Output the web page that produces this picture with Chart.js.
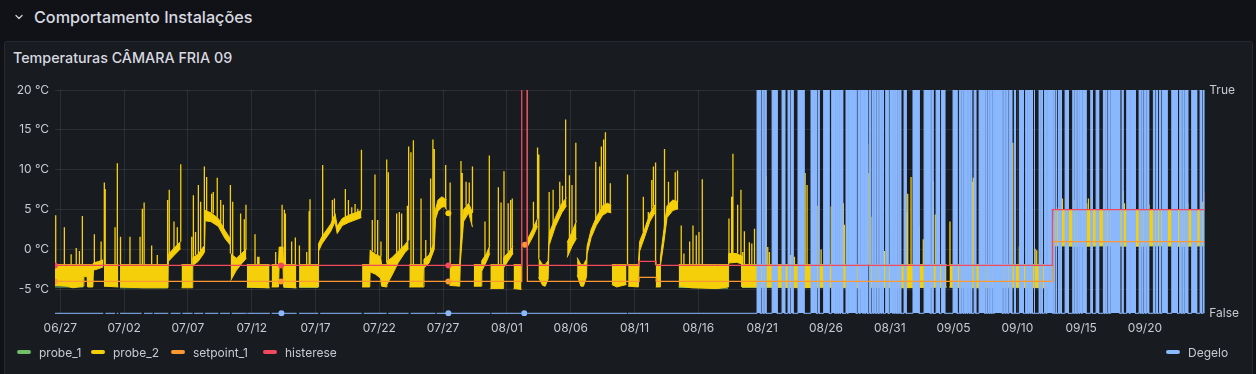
<!DOCTYPE html>
<html>
<head>
<meta charset="utf-8">
<script src="https://cdn.jsdelivr.net/npm/chart.js@4.4.1/dist/chart.umd.min.js"></script>
<style>
  html, body { margin: 0; padding: 0; }
  body { width: 1256px; height: 374px; overflow: hidden; background: #111217; font-family: Inter, "Noto Sans", sans-serif; position: relative; }
  .abs { position: absolute; }
  #rowTitle { left: 34px; top: 9px; font-size: 16.2px; line-height: 16px; font-weight: 500; color: #d8d9e0; white-space: nowrap; }
  #panel { left: 4px; top: 41px; width: 1247px; height: 345px; background: #181b1f; border: 1px solid #26292f; border-radius: 3px; }
  #panelTitle { left: 13px; top: 51px; font-size: 14.3px; line-height: 14px; font-weight: 500; color: #d8d9e0; white-space: nowrap; }
  #chart { left: 0; top: 0; z-index: 2; }
  .leg { position: absolute; top: 345px; height: 14px; display: flex; align-items: center; font-size: 12px; color: #c9cad2; white-space: nowrap; z-index: 3; }
  .sw { width: 14px; height: 4px; border-radius: 2px; margin-right: 8px; }
</style>
</head>
<body>
<svg class="abs" style="left:14px;top:13px" width="10" height="8" viewBox="0 0 10 8"><polyline points="2,2.5 5,5.5 8,2.5" fill="none" stroke="#c9cad2" stroke-width="1.4" stroke-linecap="round" stroke-linejoin="round"/></svg>
<div id="rowTitle" class="abs">Comportamento Instalações</div>
<div id="panel" class="abs"></div>
<div id="panelTitle" class="abs">Temperaturas CÂMARA FRIA 09</div>
<canvas id="chart" class="abs" width="1256" height="374"></canvas>
<div id="legend"></div>
<script>
// ---------- DATA (days since 06/27 00:00) ----------
const xTickLabels = ['06/27','07/02','07/07','07/12','07/17','07/22','07/27','08/01','08/06','08/11','08/16','08/21','08/26','08/31','09/05','09/10','09/15','09/20'];
const yTickValues = [-5, 0, 5, 10, 15, 20];

// probe_2 envelope (upper / lower edge of the fast compressor cycling)
const probe2Days = [-0.42,0.5,1.0,1.8,1.85,2.1,2.15,2.55,2.6,3.0,3.35,3.38,3.42,4.55,4.6,4.68,6.5,8.44,8.46,8.7,9.0,9.43,9.46,9.5,10.35,10.38,10.8,11.2,11.3,11.34,11.8,12.38,12.9,13.3,13.33,13.35,13.8,14.2,14.58,14.6,14.62,16.4,16.43,16.56,17.1,17.15,17.45,17.5,18.5,18.52,18.71,20.2,20.24,20.5,21.2,21.53,21.7,22.1,22.6,23.1,23.6,23.63,23.65,24.25,24.28,24.7,25.1,25.18,25.56,25.6,26.0,26.5,27.0,27.3,27.32,27.35,28.45,28.5,28.9,29.3,29.4,29.6,29.9,30.1,30.28,30.32,30.41,30.45,30.5,31.3,31.35,31.6,32.0,32.3,32.35,32.4,33.0,33.03,33.4,33.66,33.68,33.7,34.7,34.74,35.1,35.48,35.5,35.52,36.14,36.16,36.62,37.0,37.4,37.44,37.47,37.8,38.0,38.23,38.3,38.8,39.3,39.67,39.7,39.72,40.1,40.45,40.47,40.5,40.8,41.0,41.24,41.28,41.6,42.0,42.5,42.9,43.18,43.2,43.22,43.6,44.37,44.42,44.5,45.3,45.4,45.8,46.2,46.6,46.63,46.66,47.0,47.03,47.3,47.55,48.0,48.42,48.44,48.46,49.5,51.5,52.33,52.37,53.0,53.38,53.42,56.0,58.0,60.0,63.3,63.33,63.42,66.0,69.45,69.48,69.68,72.0,74.0,77.73,77.78,77.95,80.0,82.0,84.0,86.0,88.0,89.65];
const probe2High = [-1.9,-1.9,-1.9,-1.9,-1.9,-1.9,-1.9,-1.9,-1.7,-1.5,-1.3,null,-1.9,-1.9,null,-1.9,-1.9,-1.9,-0.6,-0.2,0.3,1.0,null,-1.9,-1.9,-1.0,-0.6,0.3,0.5,4.9,4.6,3.9,2.4,1.4,null,-0.5,-1.1,-0.5,0.1,null,-1.9,-1.9,null,-1.9,-1.9,0.3,0.3,-1.9,-1.9,null,-1.9,-1.9,0.75,1.6,3.2,4.5,2.9,3.9,4.3,4.6,4.9,null,-1.9,-1.9,-0.1,-0.6,-0.9,-1.9,-1.9,-1.5,-1.0,-0.2,0.6,1.2,null,-1.9,-1.9,-1.2,-0.7,0.9,5.0,6.2,6.6,6.4,6.3,null,4.55,null,-1.9,-1.9,0.5,5.0,5.8,4.6,null,-1.9,-1.9,-1.4,-0.5,0.5,null,-1.9,-1.9,-1.0,-0.4,0.4,null,-1.9,-1.9,null,1.3,2.5,3.9,null,-1.1,-1.9,-1.9,-1.4,2.0,4.0,5.8,6.5,null,0.9,2.2,3.6,null,-1.0,-1.9,-1.9,-1.2,0.4,2.5,4.0,5.5,5.8,5.5,null,-1.9,-1.9,-1.9,null,-1.9,-1.9,1.0,2.6,4.5,5.6,null,-1.9,-1.9,-1.0,2.5,5.5,6.2,6.0,null,-1.9,-1.9,-1.9,-1.9,-0.5,-0.5,-0.8,-1.9,-1.9,-1.9,-1.9,-1.9,null,-1.9,-1.9,-1.9,null,-1.9,-1.9,-1.9,-1.9,2.4,5.0,5.0,5.0,5.0,5.0,5.0,5.0];
const probe2Low = [-4.5,-4.6,-4.8,-4.6,-3.4,-3.4,-4.7,-4.7,-2.6,-2.4,-2.2,null,-4.6,-4.7,null,-4.7,-4.8,-4.8,-1.5,-1.1,-0.6,0.1,null,-4.8,-4.8,-2.0,-1.5,-0.6,-0.3,3.6,3.5,2.9,1.4,0.6,null,-3.9,-2.6,-1.8,-1.1,null,-4.7,-4.8,null,-4.7,-4.7,-2.0,-2.0,-4.7,-4.8,null,-4.7,-4.7,-0.2,0.7,2.3,3.5,2.0,3.0,3.4,3.7,4.0,null,-4.7,-4.7,-2.8,-3.1,-3.6,-4.6,-4.7,-4.4,-3.2,-1.6,-0.4,0.1,null,-4.7,-4.7,-2.3,-1.7,0.0,3.8,4.8,5.3,5.4,5.0,null,null,null,-4.5,-4.6,-1.6,3.5,4.6,2.8,null,-4.6,-4.6,-2.7,-1.5,-0.5,null,-4.9,-4.9,-2.3,-1.4,-0.5,null,-4.9,-5.0,null,0.4,1.5,2.9,null,-3.5,-4.5,-4.6,-3.7,0.5,2.9,4.6,5.5,null,-1.0,0.4,1.4,null,-3.2,-4.6,-4.6,-3.4,-0.6,1.5,3.0,4.3,4.7,4.6,null,-4.4,-4.7,-4.4,null,-4.6,-4.7,-0.2,1.6,3.5,4.6,null,-4.7,-4.7,-2.0,0.9,4.0,4.9,5.1,null,-4.6,-4.8,-4.9,-4.7,-1.7,-1.6,-1.8,-4.7,-4.7,-4.8,-4.7,-4.8,null,-4.7,-4.8,-4.7,null,-4.7,-4.8,-4.7,-4.8,0.6,0.5,0.4,0.5,0.4,0.5,0.4,0.5];

// probe_2 short peaks: day, level it leaves from, peak value
const probe2SpikeDays = [-0.36,0.32,0.85,1.25,1.5,1.73,2.67,3.2,3.45,3.52,4.29,4.47,4.72,5.46,6.25,6.43,6.57,7.16,7.6,8.41,8.54,8.91,9.17,9.44,10.3,10.43,10.6,10.82,11.0,11.29,11.47,11.86,11.99,12.3,12.57,12.78,13.33,13.51,14.13,14.42,14.55,15.26,15.47,15.57,16.88,17.38,17.56,17.64,18.13,18.42,18.74,19.31,19.5,19.57,20.56,21.32,21.48,22.34,22.58,22.84,23.1,23.31,23.6,24.45,24.66,24.87,25.13,25.58,25.71,26.36,26.57,26.75,27.2,27.3,27.48,27.67,28.27,28.64,29.02,29.2,29.31,30.2,30.55,31.4,31.5,31.8,32.05,32.3,33.28,33.62,34.33,34.54,34.77,35.1,35.29,35.42,37.08,37.4,37.5,38.31,38.62,39.14,39.35,39.6,39.9,40.1,40.4,41.96,42.27,42.4,42.58,42.72,43.1,44.45,45.69,46.08,46.35,46.48,46.65,47.35,47.66,48.19,48.37,48.66,48.87,49.32,49.58,49.84,50.05,50.31,52.4,52.61,52.71,53.08,53.34,53.48,53.61,54.0,54.19,54.4,55.31,55.44,55.57,57.22,57.53,58.37,58.52,59.31,59.62,60.23,60.41,61.36,61.44,62.62,63.27,63.38,63.53,64.58,65.41,66.33,66.41,66.67,67.32,67.63,68.42,68.57,68.73,69.72,71.47,71.55,74.64,75.16,75.47,76.39,76.52,76.83,78.21,78.53,79.44,80.43,80.57,81.35,83.31,83.39,85.32,88.35,89.53,89.62];
const probe2SpikeBase = [-1.9,-1.9,-1.9,-1.9,-1.9,-1.9,-1.7,-1.4,-1.9,-1.9,-1.9,-1.9,-1.9,-1.9,-1.9,-1.9,-1.9,-1.9,-1.9,-1.9,-0.5,0,0.5,1.0,-1.9,-1.0,-0.7,-0.6,-0.2,0.5,4.8,4.6,4.5,4.0,3.4,2.7,-0.5,-0.7,-0.6,-0.1,0,-1.9,-1.9,-1.9,-1.9,0.3,-1.9,-1.9,-1.9,-1.9,-1.9,-1.9,-1.9,-1.9,1.4,3.5,4.4,3.8,4.3,4.4,4.6,4.7,4.9,-0.2,-0.4,-0.7,-0.9,-1.6,-1.4,-0.4,-0.1,0.2,1.0,1.2,-1.9,-1.9,-1.9,-1.0,-0.6,0.5,0.9,6.4,-1.9,0.5,2.0,5.5,5.8,4.6,-0.9,0.4,-1.9,-1.9,-1.0,-0.4,0,0.3,2.0,3.9,-1.1,2.0,3.2,5.3,5.9,6.4,1.5,2.2,3.5,3.8,4.8,5.2,5.5,5.6,5.5,-1.9,2.2,3.9,5.0,5.4,-1.9,2.8,5.7,6.1,6.0,-1.9,-1.9,-1.9,-1.9,-1.9,-1.9,-1.9,-0.5,-0.5,-0.5,-0.5,-0.8,-1.9,-1.9,-1.9,-1.9,-1.9,-1.9,-1.9,-1.9,-1.9,-1.9,-1.9,-1.9,-1.9,-1.9,-1.9,-1.9,-1.9,-1.9,-1.9,-1.9,-1.9,-1.9,-1.9,-1.9,-1.9,-1.9,-1.9,-1.9,-1.9,-1.9,-1.9,-1.9,-1.9,-1.9,-1.9,-1.9,-1.9,-1.9,-1.9,-1.9,-1.9,5.0,5.0,5.0,5.0,5.0,5.0,5.0,5.0,5.0,5.0,5.0,5.0];
const probe2SpikePeak = [4.3,2.8,-0.6,0.2,-0.2,4.2,1.9,1.0,8.4,7.6,2.8,10.8,1.6,1.6,1.6,5.1,5.9,0.5,-0.7,6.2,7.5,3.5,2.8,10.7,1.6,6.8,2.2,8.1,6.0,10.4,9.1,7.0,7.2,9.0,6.2,5.6,8.1,6.0,4.5,3.8,5.6,1.9,-0.9,-0.9,-0.3,5.6,5.0,4.5,1.0,1.5,0.5,-0.3,4.8,6.3,10.6,6.2,6.4,7.6,6.2,5.3,5.7,5.1,12.5,3.7,9.4,3.7,1.0,11.3,9.7,4.5,4.7,4.5,5.5,12.9,12.2,13.7,6.4,1.2,8.9,13.8,12.6,10.6,8.4,11.1,9.6,8.5,8.4,10.4,3.5,11.8,7.8,5.9,9.8,5.8,6.2,6.4,6.0,12.8,11.9,7.2,7.5,8.5,8.0,16.3,9.3,8.1,13.4,11.0,10.4,12.9,13.8,14.7,8.3,9.4,6.6,4.7,8.7,10.4,10.9,12.6,8.5,9.7,9.9,3.0,-0.5,1.0,3.0,1.8,2.2,8.8,3.9,6.6,12.0,5.6,7.5,-0.3,2.3,0.9,0.75,2.6,9.2,0.3,-0.3,-0.7,-0.9,9.6,8.1,5.5,0,0.3,5.4,5.8,3.1,6.5,13.2,9.6,4.1,-0.2,2.5,4.7,7.0,9.1,3.0,1.3,8.6,4.4,0.5,3.5,8.5,9.0,13.4,0.4,8.3,0.1,-0.1,-1.3,5.3,6.4,6.2,5.8,6.4,6.0,7.4,5.8,5.6,5.8,6.0,7.3];

// probe_1 (mostly hidden under probe_2, bottom fringe)
const probe1Days = [-0.42,1.8,1.82,4.68,8.4,8.42,14.62,16.4,16.42,17.5,18.5,18.52,18.71,20.2,20.22,48.46,52.33,52.35,53.42,63.3,63.32,63.42,69.45,69.47,69.68,77.73,77.75,77.95,89.65];
const probe1Values = [-4.7,-4.7,null,-4.8,-4.8,null,-4.75,-4.8,null,-4.75,-4.8,null,-4.75,-4.75,null,-4.75,-4.85,null,-4.75,-4.8,null,-4.75,-4.75,null,-4.75,-4.8,null,0.45,0.45];

// setpoint_1 and histerese
const setpointDays = [-0.42,-0.39,-0.36,17.26,17.28,17.3,17.32,17.34,30.36,30.38,30.41,30.44,30.46,36.16,36.16,36.38,36.39,36.41,36.43,36.6,36.6,45.35,45.35,46.7,46.7,77.75,77.75,89.65];
const setpointValues = [-4,null,-4,-4,null,-4,null,-4,-4,null,-4,null,-4,-4,0.6,0.6,null,0.6,null,40,-4,-4,-3.5,-3.5,-4,-4,1,1];
const histereseDays = [-0.42,-0.39,-0.36,17.26,17.28,17.3,17.32,17.34,30.36,30.38,30.41,30.44,30.46,36.16,36.16,36.2,36.6,36.6,45.35,45.35,46.7,46.7,77.75,77.75,89.65];
const histereseValues = [-2,null,-2,-2,null,-2,null,-2,-2,null,-2,null,-2,-2,40,null,40,-2,-2,-1.5,-1.5,-2,-2,5,5];

// Degelo (defrost, False/True)
const degeloOffStart = [-0.42,3.53,4.42,4.68,6.56,7.34,8.65,9.56,10.48,11.34,12.52,13.43,14.65,16.56,17.4,18.71,20.37,23.78,25.7,27.45,29.5,30.5,33.78,36.6,44.48];
const degeloOffEnd   = [3.37,4.29,4.55,6.38,7.24,8.47,9.43,10.37,11.21,12.39,13.3,14.6,16.43,17.25,18.52,20.22,23.62,25.58,27.3,29.4,30.3,33.7,36.16,44.42,54.6];
const degeloDots = [17.33, 30.41, 36.36];
const degeloOnStart = [54.60,54.99,55.20,55.78,56.56,57.03,57.26,57.81,58.83,59.38,59.82,60.45,60.76,60.89,61.05,61.18,61.57,61.76,62.51,62.72,62.88,63.01,63.14,63.38,63.61,63.79,64.00,64.21,64.40,64.68,65.02,65.28,65.44,65.62,65.78,66.12,66.82,67.69,68.29,68.63,69.05,69.96,70.46,70.64,70.85,70.98,71.14,71.34,71.61,72.00,72.52,72.70,72.89,73.07,73.20,73.93,74.14,74.35,74.77,75.16,75.65,75.81,75.94,76.10,76.31,76.70,76.88,77.12,77.33,77.85,78.03,78.21,78.37,78.74,79.34,79.52,79.73,79.91,80.12,80.75,81.17,81.74,81.92,82.13,82.32,83.20,83.57,83.86,84.54,84.75,84.93,85.14,85.66,85.89,86.13,86.34,87.10,87.72,87.96,88.14,88.66,89.32,89.55];
const degeloOnEnd   = [54.86,55.07,55.30,56.17,56.77,57.13,57.42,58.28,59.25,59.46,60.24,60.69,60.84,60.97,61.13,61.31,61.68,62.36,62.62,62.83,62.96,63.09,63.25,63.48,63.69,63.90,64.08,64.32,64.50,64.87,65.23,65.36,65.52,65.70,65.86,66.28,67.30,68.16,68.39,68.89,69.31,70.27,70.53,70.74,70.93,71.06,71.24,71.42,71.74,72.42,72.60,72.78,72.96,73.15,73.80,74.03,74.24,74.56,74.84,75.47,75.71,75.86,76.02,76.18,76.36,76.78,76.96,77.25,77.77,77.93,78.08,78.27,78.45,79.00,79.42,79.60,79.83,80.02,80.38,80.88,81.37,81.82,82.00,82.21,83.02,83.28,83.78,84.25,84.64,84.82,85.03,85.29,85.76,85.97,86.21,86.73,87.54,87.83,88.04,88.35,89.05,89.42,89.65];
const timeEnd = 89.65;

// ---------- BUILD ----------
const X_MIN = -0.415, X_MAX = 89.65;
const pts = (xs, ys) => xs.map((x, i) => ({ x: x, y: ys[i] }));

const spikeData = [];
probe2SpikeDays.forEach((d, i) => {
  spikeData.push({ x: d, y: probe2SpikeBase[i] }, { x: d, y: probe2SpikePeak[i] }, { x: d, y: null });
});

const degeloData = [];
degeloOffStart.forEach((s, i) => {
  const e = degeloOffEnd[i];
  degeloData.push({ x: s, y: 0 }, { x: e, y: 0 });
  if (i < degeloOffStart.length - 1) {
    degeloData.push({ x: e, y: null });
    degeloDots.filter(d => d > e && d < degeloOffStart[i + 1]).forEach(d => {
      degeloData.push({ x: d, y: 0 }, { x: d, y: null });
    });
  }
});
degeloOnStart.forEach((s, i) => {
  const e = degeloOnEnd[i];
  degeloData.push({ x: s, y: 0 }, { x: s, y: 1 }, { x: e, y: 1 }, { x: e, y: 0 });
});
degeloData.push({ x: timeEnd, y: 0 });

function isolatedRadius(ctx) {
  const data = ctx.dataset.data, i = ctx.dataIndex, p = data[i];
  if (!p || p.y === null) return 0;
  const prev = data[i - 1], next = data[i + 1];
  const lonely = (!prev || prev.y === null) && (!next || next.y === null);
  return lonely ? 3 : 0;
}

const YELLOW = '#F5CF0A', GREEN = '#73BF69', ORANGE = '#FF9830', RED = '#F2495C', BLUE = '#8AB8FF';
const TICK = '#c9cad2';
const GRID = 'rgba(204,204,220,0.11)';

const common = { pointRadius: isolatedRadius, pointHoverRadius: 0, pointBorderWidth: 0, spanGaps: false, tension: 0 };

new Chart(document.getElementById('chart'), {
  type: 'line',
  data: {
    datasets: [
      Object.assign({ label: 'probe_1', data: pts(probe1Days, probe1Values), borderColor: GREEN, backgroundColor: GREEN, borderWidth: 1, fill: false, order: 6 }, common),
      Object.assign({ label: 'probe_2 low', data: pts(probe2Days, probe2Low), borderColor: YELLOW, backgroundColor: YELLOW, borderWidth: 1, fill: false, order: 5 }, common),
      Object.assign({ label: 'probe_2', data: pts(probe2Days, probe2High), borderColor: YELLOW, backgroundColor: YELLOW, pointBackgroundColor: YELLOW, borderWidth: 1, fill: { target: 1, above: YELLOW, below: YELLOW }, order: 4 }, common),
      Object.assign({ label: 'probe_2 peaks', data: spikeData, borderColor: YELLOW, borderWidth: 1.3, fill: false, order: 4 }, common, { pointRadius: 0 }),
      Object.assign({ label: 'setpoint_1', data: pts(setpointDays, setpointValues), borderColor: ORANGE, backgroundColor: ORANGE, pointBackgroundColor: ORANGE, borderWidth: 1.3, fill: false, order: 1 }, common),
      Object.assign({ label: 'histerese', data: pts(histereseDays, histereseValues), borderColor: RED, backgroundColor: RED, pointBackgroundColor: RED, borderWidth: 1.3, fill: false, order: 0 }, common),
      Object.assign({ label: 'Degelo', data: degeloData, yAxisID: 'y2', borderColor: BLUE, backgroundColor: BLUE, pointBackgroundColor: BLUE, borderWidth: 1, fill: 'origin', order: 2, clip: { left: 0, right: 0, top: 0, bottom: 3 } }, common)
    ]
  },
  options: {
    responsive: false,
    animation: false,
    devicePixelRatio: 1,
    parsing: true,
    normalized: true,
    layout: { padding: { top: 90, left: 0, right: 0, bottom: 0 } },
    plugins: { legend: { display: false }, tooltip: { enabled: false } },
    scales: {
      x: {
        type: 'linear', min: X_MIN, max: X_MAX,
        afterFit: s => { s.height = 374 - 313.3; },
        afterBuildTicks: s => { s.ticks = xTickLabels.map((_, i) => ({ value: i * 5 })); },
        ticks: { callback: (v) => xTickLabels[Math.round(v / 5)], color: TICK, font: { family: 'Inter', size: 12 }, padding: 8, maxRotation: 0, autoSkip: false },
        grid: { color: GRID, drawTicks: false, lineWidth: 1 },
        border: { display: false }
      },
      y: {
        type: 'linear', position: 'left', min: -8, max: 20,
        afterFit: s => { s.width = 55; },
        afterBuildTicks: s => { s.ticks = yTickValues.map(v => ({ value: v })); },
        ticks: { callback: v => v + ' °C', color: TICK, font: { family: 'Inter', size: 12 }, padding: 6 },
        grid: { color: GRID, drawTicks: false, lineWidth: 1 },
        border: { display: false }
      },
      y2: {
        type: 'linear', position: 'right', min: 0, max: 1,
        afterFit: s => { s.width = 1256 - 1204.3; },
        afterBuildTicks: s => { s.ticks = [{ value: 0 }, { value: 1 }]; },
        ticks: { callback: v => (v === 1 ? 'True' : 'False'), color: TICK, font: { family: 'Inter', size: 12 }, padding: 5 },
        grid: { display: false, drawTicks: false },
        border: { display: false }
      }
    }
  }
});

// ---------- LEGEND ----------
const legendItems = [
  { name: 'probe_1', color: GREEN, left: 17 },
  { name: 'probe_2', color: YELLOW, left: 91 },
  { name: 'setpoint_1', color: ORANGE, left: 171 },
  { name: 'histerese', color: RED, left: 263 },
  { name: 'Degelo', color: BLUE, left: 1166 }
];
const lg = document.getElementById('legend');
legendItems.forEach(it => {
  const d = document.createElement('div');
  d.className = 'leg';
  d.style.left = it.left + 'px';
  d.innerHTML = '<div class="sw" style="background:' + it.color + '"></div><span>' + it.name + '</span>';
  lg.appendChild(d);
});
</script>
</body>
</html>
